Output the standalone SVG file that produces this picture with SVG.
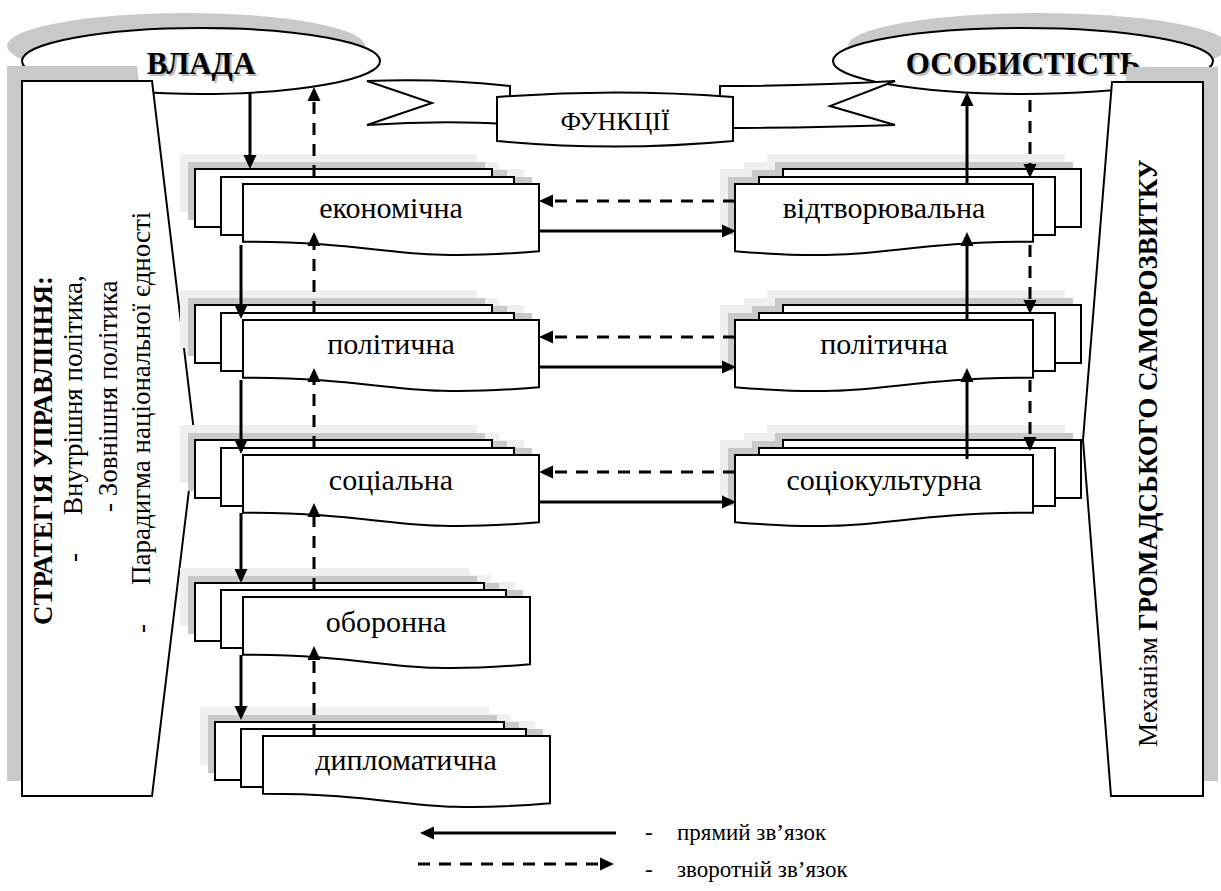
<svg xmlns="http://www.w3.org/2000/svg" width="1221" height="891" viewBox="0 0 1221 891">
<defs>
<marker id="ah" markerUnits="userSpaceOnUse" markerWidth="14" markerHeight="14" viewBox="0 0 14 14" refX="0" refY="7" orient="auto"><path d="M0,0.5 L14,7 L0,13.5 Z" fill="#000"/></marker>
<g id="stackL">
<g fill="#efefef">
<rect x="180" y="-30" width="297" height="58"/>
<rect x="206" y="-22" width="293" height="58"/>
<rect x="228" y="-15" width="296" height="58"/>
</g>
<g fill="#c9c9c9">
<rect x="188" y="-22" width="297" height="58"/>
<rect x="214" y="-14" width="293" height="58"/>
<rect x="236" y="-7" width="296" height="58"/>
</g>
<g fill="#fff" stroke="#000" stroke-width="2">
<rect x="195" y="-15" width="297" height="58"/>
<rect x="221" y="-7" width="293" height="58"/>
<path d="M539,0 L243,0 L243,57.7 C391,57.7 391,79.7 539,67.2 Z"/>
</g>
</g>
<g id="stackN">
<g fill="#efefef">
<rect x="180" y="-29" width="289" height="58"/>
<rect x="206" y="-22" width="285" height="58"/>
<rect x="228" y="-15" width="287" height="58"/>
</g>
<g fill="#c9c9c9">
<rect x="188" y="-21" width="289" height="58"/>
<rect x="214" y="-14" width="285" height="58"/>
<rect x="236" y="-7" width="287" height="58"/>
</g>
<g fill="#fff" stroke="#000" stroke-width="2">
<rect x="195" y="-14" width="289" height="58"/>
<rect x="221" y="-7" width="285" height="58"/>
<path d="M530,0 L243,0 L243,57.7 C386,57.7 386,79.7 530,67.2 Z"/>
</g>
</g>
<g id="stackR">
<g fill="#efefef">
<rect x="767" y="-30" width="298" height="58"/>
<rect x="744" y="-22" width="296" height="58"/>
<rect x="720" y="-15" width="298" height="58"/>
</g>
<g fill="#c9c9c9">
<rect x="775" y="-22" width="298" height="58"/>
<rect x="752" y="-14" width="296" height="58"/>
<rect x="728" y="-7" width="298" height="58"/>
</g>
<g fill="#fff" stroke="#000" stroke-width="2">
<rect x="783" y="-15" width="298" height="58"/>
<rect x="759" y="-7" width="296" height="58"/>
<path d="M735,0 L1033,0 L1033,57.7 C884,57.7 884,79.7 735,67.2 Z"/>
</g>
</g>
</defs>
<rect width="1221" height="891" fill="#fff"/>

<g id="vlada">
<ellipse cx="186" cy="46" rx="179" ry="33" fill="#c9c9c9"/>
<ellipse cx="201" cy="61" rx="179" ry="33" fill="#fff" stroke="#000" stroke-width="2"/>
<text x="203" y="76" font-family="Liberation Serif" font-size="31" font-weight="bold" fill="#bbb" text-anchor="middle">ВЛАДА</text>
<text x="201" y="74" font-family="Liberation Serif" font-size="31" font-weight="bold" text-anchor="middle">ВЛАДА</text>
</g>
<g id="osobystist">
<ellipse cx="1038" cy="46" rx="190" ry="33" fill="#c9c9c9"/>
<ellipse cx="1023" cy="61" rx="190" ry="33" fill="#fff" stroke="#000" stroke-width="2"/>
<text x="1025" y="76" font-family="Liberation Serif" font-size="31" font-weight="bold" fill="#bbb" text-anchor="middle">ОСОБИСТІСТЬ</text>
<text x="1023" y="74" font-family="Liberation Serif" font-size="31" font-weight="bold" text-anchor="middle">ОСОБИСТІСТЬ</text>
</g>

<g id="strategy" font-family="Liberation Serif" font-size="27">
<polygon points="7,66 137,66 180,425 137,781 7,781" fill="#c9c9c9"/>
<polygon points="22,81 152,81 195,440 152,796 22,796" fill="#fff" stroke="#000" stroke-width="2"/>
<text font-family="Liberation Serif" font-weight="bold" transform="translate(52,625) rotate(-90)">СТРАТЕГІЯ УПРАВЛІННЯ:</text>
<text font-family="Liberation Serif" transform="translate(82,562) rotate(-90)">-</text>
<text font-family="Liberation Serif" transform="translate(82,515) rotate(-90)">Внутрішня політика,</text>
<text font-family="Liberation Serif" transform="translate(117,512) rotate(-90)">- Зовнішня політика</text>
<text font-family="Liberation Serif" transform="translate(150,633) rotate(-90)">-</text>
<text font-family="Liberation Serif" transform="translate(150,585) rotate(-90)">Парадигма національної єдності</text>
</g>

<g id="mechanism">
<polygon points="1127,67 1218,67 1218,781 1126,781 1098,425" fill="#c9c9c9"/>
<polygon points="1112,82 1203,82 1203,796 1111,796 1083,440" fill="#fff" stroke="#000" stroke-width="2"/>
<text font-family="Liberation Serif" font-size="27" transform="translate(1157,747) rotate(-90)">Механізм <tspan font-weight="bold">ГРОМАДСЬКОГО САМОРОЗВИТКУ</tspan></text>
</g>

<g id="functions" fill="#fff" stroke="#000" stroke-width="2">
<path d="M367,81 Q440,78 510,86 L510,124 Q440,120 367,125 L432,103 Z"/>
<path d="M895,81 Q810,86 720,86 L720,128 Q810,128 895,125 L830,106 Z"/>
<path d="M497,97 Q615,88 733,97 L733,141 Q615,152 497,141 Z"/>
<text x="615" y="130" font-family="Liberation Serif" font-size="26" text-anchor="middle" fill="#000" stroke="none">ФУНКЦІЇ</text>
</g>

<g id="economic" transform="translate(0,184)"><use href="#stackL"/><text x="391" y="34" font-family="Liberation Serif" font-size="30" text-anchor="middle">економічна</text></g>
<g id="political-l" transform="translate(0,320)"><use href="#stackL"/><text x="391" y="34" font-family="Liberation Serif" font-size="30" text-anchor="middle">політична</text></g>
<g id="social" transform="translate(0,455)"><use href="#stackL"/><text x="391" y="35" font-family="Liberation Serif" font-size="30" text-anchor="middle">соціальна</text></g>
<g id="defense" transform="translate(0,597)"><use href="#stackN"/><text x="386" y="35" font-family="Liberation Serif" font-size="30" text-anchor="middle">оборонна</text></g>
<g id="diplomatic" transform="translate(20,736)"><use href="#stackN"/><text x="386" y="34" font-family="Liberation Serif" font-size="30" text-anchor="middle">дипломатична</text></g>

<g id="reproductive" transform="translate(0,184)"><use href="#stackR"/><text x="884" y="34" font-family="Liberation Serif" font-size="30" text-anchor="middle">відтворювальна</text></g>
<g id="political-r" transform="translate(0,320)"><use href="#stackR"/><text x="884" y="34" font-family="Liberation Serif" font-size="30" text-anchor="middle">політична</text></g>
<g id="sociocultural" transform="translate(0,455)"><use href="#stackR"/><text x="884" y="35" font-family="Liberation Serif" font-size="30" text-anchor="middle">соціокультурна</text></g>

<g id="connectors" stroke="#000" stroke-width="3" fill="none">
<g>
<path marker-end="url(#ah)" d="M250,93 V155"/>
<path marker-end="url(#ah)" d="M241,245 V305"/>
<path marker-end="url(#ah)" d="M241,380 V440"/>
<path marker-end="url(#ah)" d="M241,513 V569"/>
<path marker-end="url(#ah)" d="M241,655 V706"/>
<path marker-end="url(#ah)" d="M539,231 H722"/>
<path marker-end="url(#ah)" d="M539,367 H722"/>
<path marker-end="url(#ah)" d="M539,502 H722"/>
<path marker-end="url(#ah)" d="M967,185 V106"/>
<path marker-end="url(#ah)" d="M967,320 V246"/>
<path marker-end="url(#ah)" d="M967,459 V382"/>
</g>
<g stroke-dasharray="12 9">
<path marker-end="url(#ah)" d="M314,177 V101"/>
<path marker-end="url(#ah)" d="M314,313 V246"/>
<path marker-end="url(#ah)" d="M314,448 V382"/>
<path marker-end="url(#ah)" d="M314,590 V517"/>
<path marker-end="url(#ah)" d="M314,736 V660"/>
<path marker-end="url(#ah)" d="M735,201 H553"/>
<path marker-end="url(#ah)" d="M735,337 H553"/>
<path marker-end="url(#ah)" d="M735,472 H553"/>
<path marker-end="url(#ah)" d="M1030,100 V164"/>
<path marker-end="url(#ah)" d="M1030,245 V300"/>
<path marker-end="url(#ah)" d="M1030,380 V437"/>
</g>
</g>

<g id="legend">
<path stroke="#000" stroke-width="3" fill="none" marker-end="url(#ah)" d="M616,833 H434"/>
<path stroke="#000" stroke-width="3" fill="none" stroke-dasharray="12 9" marker-end="url(#ah)" d="M418,864 H600"/>
<text x="645" y="840" font-family="Liberation Serif" font-size="23">-</text>
<text x="677" y="840" font-family="Liberation Serif" font-size="23">прямий зв’язок</text>
<text x="645" y="877" font-family="Liberation Serif" font-size="23">-</text>
<text x="677" y="877" font-family="Liberation Serif" font-size="23">зворотній зв’язок</text>
</g>
</svg>
